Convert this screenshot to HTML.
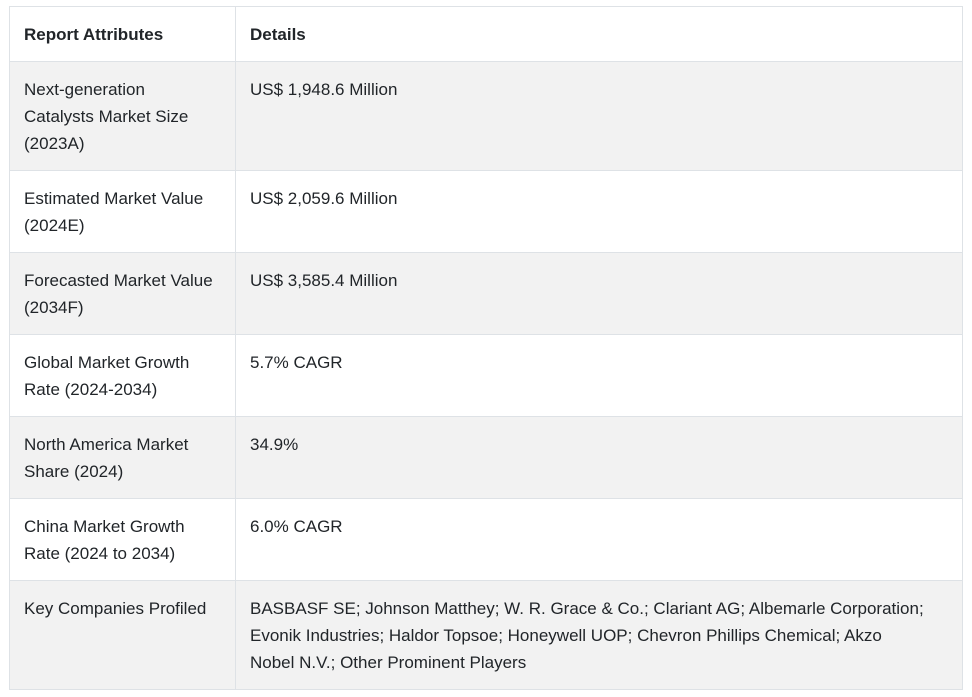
<!DOCTYPE html>
<html><head><style>
body{margin:0;background:#fff;width:972px;height:697px;font-family:"Liberation Sans",sans-serif;color:#212529;}
table{position:absolute;left:9px;top:6px;border-collapse:collapse;width:954px;font-size:17px;line-height:27px;}
td{border:1px solid #dee2e6;vertical-align:top;padding:14px 14px 0 14px;box-sizing:border-box;white-space:nowrap;}
td:first-child{width:226px;}
tr.g td{background:#f2f2f2;}
</style></head><body>
<table>
<tr style="height:55px"><td><b>Report Attributes</b></td><td><b>Details</b></td></tr>
<tr class="g" style="height:109px"><td>Next-generation<br>Catalysts Market Size<br>(2023A)</td><td>US$ 1,948.6 Million</td></tr>
<tr style="height:82px"><td>Estimated Market Value<br>(2024E)</td><td>US$ 2,059.6 Million</td></tr>
<tr class="g" style="height:82px"><td>Forecasted Market Value<br>(2034F)</td><td>US$ 3,585.4 Million</td></tr>
<tr style="height:82px"><td>Global Market Growth<br>Rate (2024-2034)</td><td>5.7% CAGR</td></tr>
<tr class="g" style="height:82px"><td>North America Market<br>Share (2024)</td><td>34.9%</td></tr>
<tr style="height:82px"><td>China Market Growth<br>Rate (2024 to 2034)</td><td>6.0% CAGR</td></tr>
<tr class="g" style="height:109px"><td>Key Companies Profiled</td><td>BASBASF SE; Johnson Matthey; W. R. Grace &amp; Co.; Clariant AG; Albemarle Corporation;<br>Evonik Industries; Haldor Topsoe; Honeywell UOP; Chevron Phillips Chemical; Akzo<br>Nobel N.V.; Other Prominent Players</td></tr>
</table>
</body></html>
